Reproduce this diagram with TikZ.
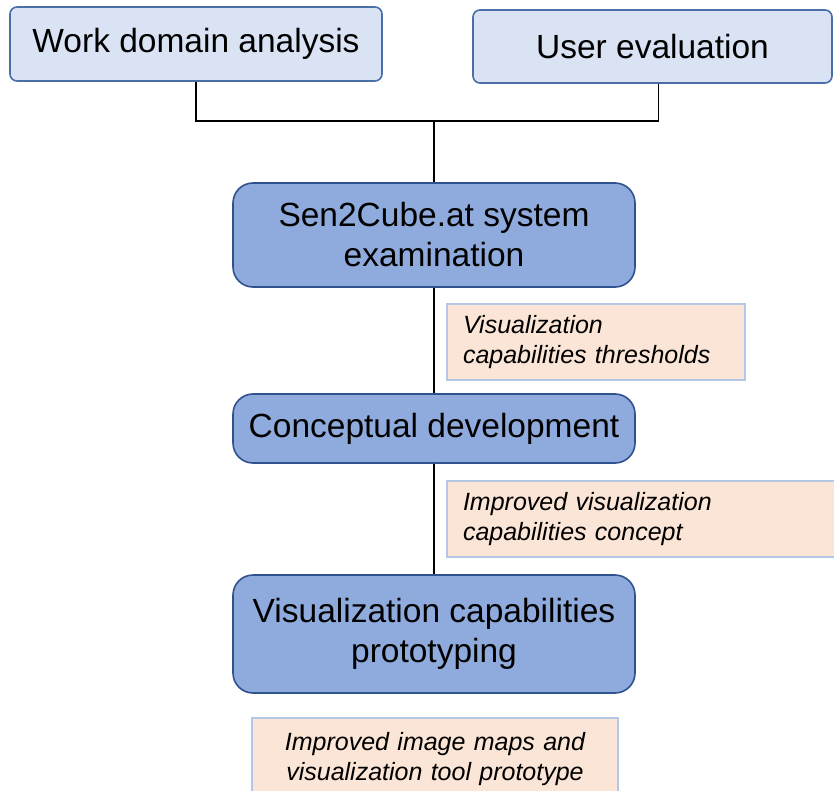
\documentclass[tikz,border=0pt]{standalone}
\usepackage{fontspec}
\setmainfont{Liberation Sans}
\usepackage{xcolor}
\usepackage{tikz}
\definecolor{inputfill}{HTML}{DAE3F3}
\definecolor{inputedge}{HTML}{4A6FA8}
\definecolor{stagefill}{HTML}{8FAADC}
\definecolor{stageedge}{HTML}{2F528F}
\definecolor{outfill}{HTML}{FBE5D6}
\definecolor{outedge}{HTML}{B4C7E7}

\begin{document}
\begin{tikzpicture}[x=1pt, y=-1pt,
    inbox/.style={draw=inputedge, line width=1.6pt, fill=inputfill, rounded corners=7pt, font=\fontsize{33.5}{40}\selectfont},
    stagebox/.style={draw=stageedge, line width=1.6pt, fill=stagefill, rounded corners=20pt, align=center, font=\fontsize{33.5}{40}\selectfont},
    outbox/.style={draw=outedge, line width=1.3pt, fill=outfill, inner xsep=16pt, font=\fontsize{25}{30}\selectfont\itshape},
    conn/.style={draw=black, line width=1.8pt}]
    \useasboundingbox (0,0) rectangle (834,791);

    % Inputs
    \node[inbox, minimum width=372, minimum height=74] (wda) at (196,44) {Work domain analysis};
    \node[inbox, minimum width=359, minimum height=73] (ue) at (652.5,46.5) {User evaluation};
    \coordinate (join) at (434,121);

    % Stages
    \node[stagebox, minimum width=402, minimum height=104] (sen) at (434,235) {Sen2Cube.at system\\examination};
    \node[stagebox, minimum width=402, minimum height=69] (concept) at (434,428.5) {Conceptual development};
    \node[stagebox, minimum width=402, minimum height=118] (proto) at (434,634) {Visualization capabilities\\prototyping};

    % Outcomes
    \node[outbox, text width=266, align=left, minimum height=76] (thr) at (596,342) {Visualization\\capabilities thresholds};
    \node[outbox, text width=371, align=left, minimum height=76] (cpt) at (648.5,519) {Improved visualization\\capabilities concept};
    \node[outbox, text width=334, align=center, minimum height=82] (res) at (435,759) {Improved image maps and\\visualization tool prototype};

    % Connectors
    \draw[conn] (wda.south) |- (join) -| ([xshift=6pt]ue.south);
    \draw[conn] (join) -- (sen.north);
    \draw[conn] (sen) -- (concept);
    \draw[conn] (concept) -- (proto);
\end{tikzpicture}
\end{document}
